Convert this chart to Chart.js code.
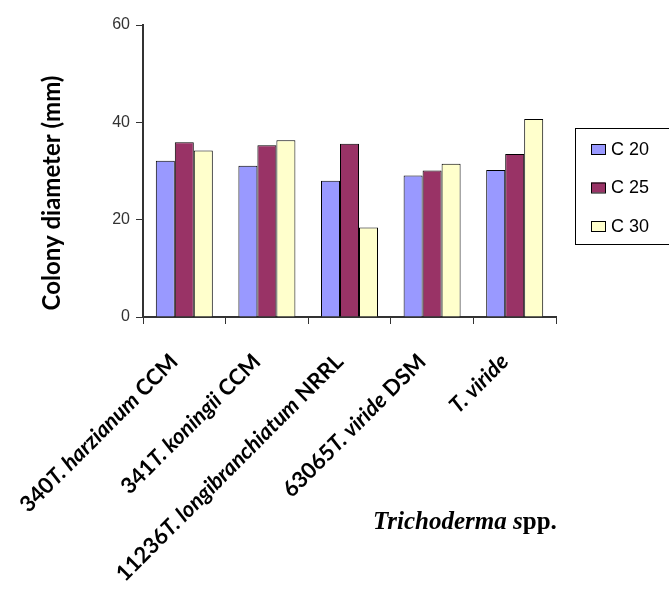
<!DOCTYPE html>
<html>
<head>
<meta charset="utf-8">
<script src="https://cdn.jsdelivr.net/npm/chart.js@4.4.1/dist/chart.umd.min.js"></script>
<style>
  html, body { margin: 0; padding: 0; background: #fff; }
  #wrap { width: 669px; height: 590px; position: relative; }
</style>
</head>
<body>
<div id="wrap"><canvas id="myChart" width="669" height="590"></canvas></div>
<script>
// categorías (cepas) y la parte en cursiva de cada etiqueta
const categories = ['340T. harzianum CCM', '341T. koningii CCM', '11236T. longibranchiatum NRRL', '63065T. viride DSM', 'T. viride'];
const italicParts = ['T. harzianum', 'T. koningii', 'T. longibranchiatum', 'T. viride', 'T. viride'];

// series: diámetro de colonia (mm) a cada temperatura
const seriesNames = ['C 20', 'C 25', 'C 30'];
const c20 = [32.1, 31.1, 28.0, 29.1, 30.2];
const c25 = [35.9, 35.3, 35.6, 30.1, 33.5];
const c30 = [34.2, 36.3, 18.4, 31.5, 40.7];
const seriesColors = ['#9999FF', '#993366', '#FFFFCC'];

const yTicks = [0, 20, 40, 60];
const yTitle = 'Colony diameter (mm)';

// etiquetas del eje X con partes en cursiva + leyenda con marco + títulos
const extrasPlugin = {
    id: 'extras',
    afterDraw(chart) {
        const ctx = chart.ctx;
        const x = chart.scales.x;
        const area = chart.chartArea;

        // etiquetas rotadas -45°
        categories.forEach((lab, i) => {
            const it = italicParts[i];
            const k = lab.indexOf(it);
            const segs = [
                { t: lab.slice(0, k), f: 'bold 22px Lato' },
                { t: it, f: 'italic bold 22px Lato' },
                { t: lab.slice(k + it.length), f: 'bold 22px Lato' }
            ].filter(s => s.t.length);
            let total = 0;
            segs.forEach(s => { ctx.font = s.f; s.w = ctx.measureText(s.t).width; total += s.w; });
            const px = x.getPixelForValue(i) - 10;
            ctx.save();
            ctx.translate(px, area.bottom + 41);
            ctx.rotate(-Math.PI / 4);
            ctx.fillStyle = '#000';
            ctx.textBaseline = 'middle';
            ctx.textAlign = 'left';
            let cx = -total;
            segs.forEach(s => { ctx.font = s.f; ctx.fillText(s.t, cx, 0); cx += s.w; });
            ctx.restore();
        });

        // título del eje Y
        ctx.save();
        ctx.translate(52, 193);
        ctx.rotate(-Math.PI / 2);
        ctx.font = 'bold 24px Lato';
        ctx.fillStyle = '#000';
        ctx.textAlign = 'center';
        ctx.textBaseline = 'middle';
        ctx.fillText(yTitle, 0, 0);
        ctx.restore();

        // "Trichoderma spp."
        ctx.save();
        ctx.fillStyle = '#000';
        ctx.textBaseline = 'alphabetic';
        ctx.font = 'italic bold 25px "Liberation Serif"';
        const a = 'Trichoderma s';
        ctx.fillText(a, 373, 529);
        const wa = ctx.measureText(a).width;
        ctx.font = 'bold 25px "Liberation Serif"';
        ctx.fillText('pp.', 373 + wa, 529);
        ctx.restore();

        // leyenda con marco
        ctx.save();
        ctx.strokeStyle = '#000';
        ctx.lineWidth = 1;
        ctx.strokeRect(575.5, 128.5, 100, 116);
        ctx.font = '18px "Liberation Sans"';
        ctx.textBaseline = 'middle';
        chart.data.datasets.forEach((ds, i) => {
            const yy = 149 + i * 38.5;
            ctx.fillStyle = ds.backgroundColor;
            ctx.fillRect(591, yy - 5, 14, 10);
            ctx.strokeStyle = '#000';
            ctx.strokeRect(591.5, yy - 4.5, 14, 10);
            ctx.fillStyle = '#000';
            ctx.fillText(ds.label, 611, yy + 1);
        });
        ctx.restore();
    }
};

const ctx = document.getElementById('myChart').getContext('2d');
const myChart = new Chart(ctx, {
    type: 'bar',
    data: {
        labels: categories,
        datasets: [c20, c25, c30].map((d, i) => ({
            label: seriesNames[i],
            data: d,
            backgroundColor: seriesColors[i],
            borderColor: '#000',
            borderWidth: 1,
            borderSkipped: 'start'
        }))
    },
    options: {
        responsive: false,
        animation: false,
        layout: { padding: { top: 25, right: 113, left: 0, bottom: 0 } },
        datasets: { bar: { categoryPercentage: 0.69, barPercentage: 1 } },
        plugins: { legend: { display: false }, tooltip: { enabled: false } },
        scales: {
            x: {
                afterFit: s => { s.height = 273; },
                grid: { drawOnChartArea: false, drawTicks: true, tickLength: 7, tickColor: '#333', offset: true },
                border: { color: '#333', width: 2 },
                ticks: { display: false }
            },
            y: {
                min: 0,
                max: 60,
                afterFit: s => { s.width = 143; },
                afterBuildTicks: s => { s.ticks = yTicks.map(v => ({ value: v })); },
                grid: { drawOnChartArea: false, drawTicks: true, tickLength: 7, tickColor: '#333' },
                border: { color: '#333', width: 2 },
                ticks: { color: '#333', font: { family: 'Liberation Sans', size: 16 }, padding: 6 }
            }
        }
    },
    plugins: [extrasPlugin]
});
</script>
</body>
</html>
